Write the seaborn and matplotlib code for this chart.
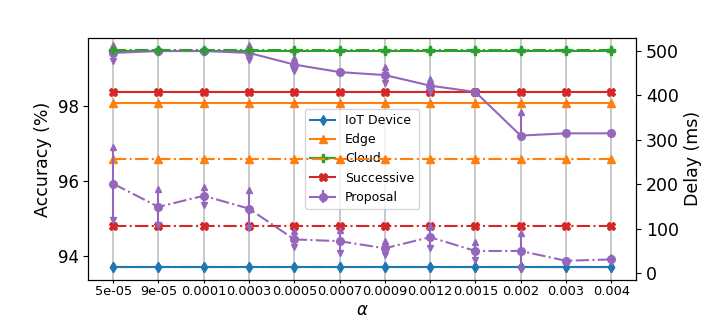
import numpy as np
import pandas as pd
import matplotlib
matplotlib.use("Agg")
import matplotlib.pyplot as plt
import seaborn as sns

# x axis: learning rate alpha (categorical positions)
alpha_labels = ["5e-05", "9e-05", "0.0001", "0.0003", "0.0005", "0.0007",
                "0.0009", "0.0012", "0.0015", "0.002", "0.003", "0.004"]

# baselines: accuracy (%) and delay (ms), constant over alpha
iot_acc, iot_delay = 93.71, 14
edge_acc, edge_delay = 98.09, 256
cloud_acc, cloud_delay = 99.47, 502
succ_acc, succ_delay = 98.37, 105

# proposal
prop_acc = [99.41, 99.46, 99.46, 99.41, 99.10, 98.90, 98.82, 98.54, 98.37, 97.21, 97.27, 97.27]
prop_acc_lo = [0.22, 0.0, 0.0, 0.20, 0.18, 0.0, 0.20, 0.18, 0.0, 0.0, 0.0, 0.0]
prop_acc_hi = [0.22, 0.0, 0.0, 0.20, 0.18, 0.0, 0.21, 0.18, 0.0, 0.62, 0.0, 0.0]
prop_delay = [201, 149, 174, 145, 76, 72, 56, 81, 50, 50, 28, 31]
prop_delay_err = [82, 40, 20, 43, 18, 26, 16, 25, 20, 41, 0, 6]

pal = sns.color_palette("tab10")
BLUE, ORANGE, GREEN, RED, PURPLE = pal[0], pal[1], pal[2], pal[3], pal[4]

xpos = np.arange(len(alpha_labels))
n = len(xpos)

baselines = [
    ("IoT Device", iot_acc, iot_delay, BLUE, "d"),
    ("Edge", edge_acc, edge_delay, ORANGE, "^"),
    ("Cloud", cloud_acc, cloud_delay, GREEN, "P"),
    ("Successive", succ_acc, succ_delay, RED, "X"),
]

fig, ax = plt.subplots(figsize=(7.06, 3.21), dpi=100)
ax2 = ax.twinx()

line_kw = dict(markersize=5.5, linewidth=1.5, markeredgewidth=1)

for name, acc, dly, col, mk in baselines:
    df = pd.DataFrame({"x": xpos, "acc": [acc] * n, "delay": [dly] * n})
    sns.lineplot(data=df, x="x", y="acc", ax=ax, color=col, marker=mk,
                 markeredgecolor=col, label=name, legend=False, **line_kw)
    sns.lineplot(data=df, x="x", y="delay", ax=ax2, color=col, marker=mk,
                 markeredgecolor=col, linestyle="-.", legend=False, **line_kw)


def draw_errorbar(axis, y, lo, hi, ls, label=None):
    y, lo, hi = np.asarray(y, float), np.asarray(lo, float), np.asarray(hi, float)
    h = axis.errorbar(xpos, y, yerr=[lo, hi], color=PURPLE, marker="o",
                      markersize=5.5, linestyle=ls, linewidth=1.5, elinewidth=1.5,
                      capsize=3, capthick=0, label=label)
    up = hi > 0
    dn = lo > 0
    axis.plot(xpos[up], (y + hi)[up], linestyle="none", marker="^",
              markersize=4.5, color=PURPLE)
    axis.plot(xpos[dn], (y - lo)[dn], linestyle="none", marker="v",
              markersize=4.5, color=PURPLE)
    return h


draw_errorbar(ax, prop_acc, prop_acc_lo, prop_acc_hi, "-", label="Proposal")
draw_errorbar(ax2, prop_delay, prop_delay_err, prop_delay_err, "-.")

ax.set_ylim(93.37, 99.81)
ax2.set_ylim(-15, 528.5)

ax.set_xticks(xpos)
ax.set_xticklabels(alpha_labels, fontsize=9.3)
ax.tick_params(axis="x", length=2, pad=2)
ax.set_yticks([94, 96, 98])
ax.tick_params(axis="y", labelsize=12)
ax2.set_yticks([0, 100, 200, 300, 400, 500])
ax2.tick_params(axis="y", labelsize=12.5)
ax.grid(axis="x", color="#b0b0b0", linewidth=1.2, alpha=0.8)

ax.set_xlabel(r"$\alpha$", fontsize=12, labelpad=2)
ax.set_ylabel("Accuracy (%)", fontsize=12.5)
ax2.set_ylabel("Delay (ms)", fontsize=12.5)

handles, labels = ax.get_legend_handles_labels()
ax.legend(handles, labels, loc="center", fontsize=9)

fig.subplots_adjust(left=0.125, right=0.901, top=0.882, bottom=0.128)
fig.savefig("out.png", dpi=100)
